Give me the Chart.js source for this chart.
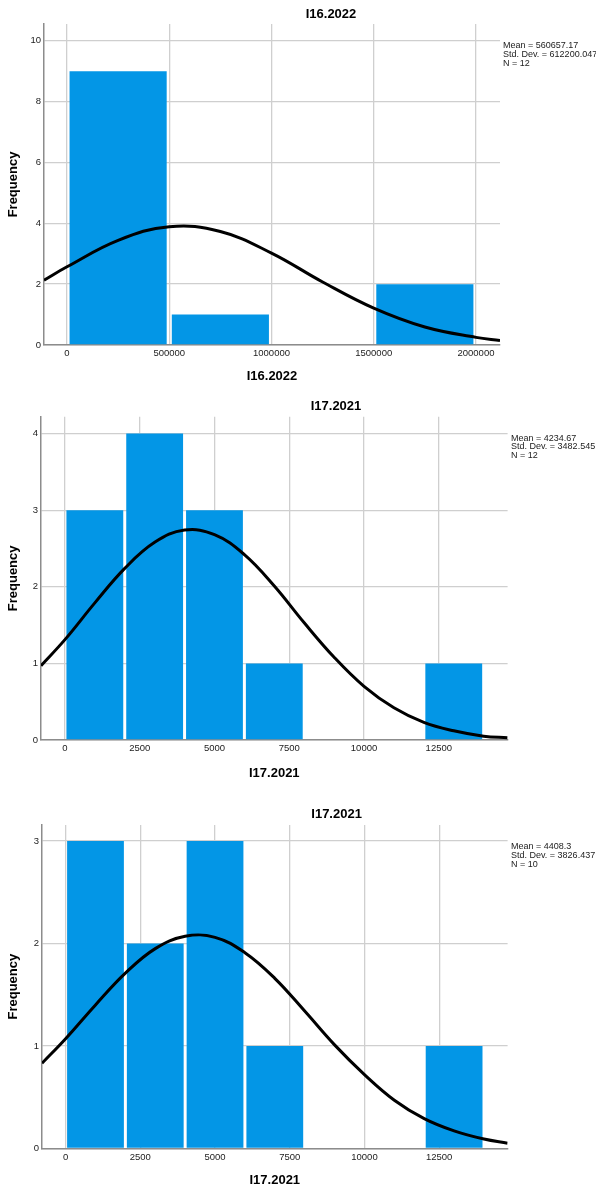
<!DOCTYPE html>
<html>
<head>
<meta charset="utf-8">
<script src="https://cdn.jsdelivr.net/npm/chart.js@4.4.1/dist/chart.umd.min.js"></script>
<style>
    body { margin: 0; background: #fff; }
    .pannello { position: absolute; left: 0; }
</style>
</head>
<body>
<div class="pannello" style="top:0px"><canvas id="c1" width="596" height="395"></canvas></div>
<div class="pannello" style="top:395px"><canvas id="c2" width="596" height="395"></canvas></div>
<div class="pannello" style="top:790px"><canvas id="c3" width="596" height="404"></canvas></div>
<script>

// I16.2022
const p1Mids = [250000, 750000, 1250000, 1750000];
const p1Counts = [9, 1, 0, 2];
const p1XTicks = [0, 500000, 1000000, 1500000, 2000000];
const p1YTicks = [0, 2, 4, 6, 8, 10];
const p1CurveX = [-112500, 0, 250000, 500000, 750000, 1000000, 1250000, 1500000, 1750000, 2000000, 2117500];
const p1CurveY = [2.13, 2.57, 3.44, 3.89, 3.73, 3.02, 2.07, 1.21, 0.59, 0.25, 0.15];
const p1Stats = ['Mean = 560657.17', 'Std. Dev. = 612200.047', 'N = 12'];

// I17.2021 (N = 12)
const p2Mids = [1000, 3000, 5000, 7000, 9000, 11000, 13000];
const p2Counts = [3, 4, 3, 1, 0, 0, 1];
const p2XTicks = [0, 2500, 5000, 7500, 10000, 12500];
const p2YTicks = [0, 1, 2, 3, 4];
const p2CurveX = [-800, 0, 1000, 2000, 3000, 4000, 5000, 6000, 7000, 8000, 9000, 10000, 11000, 12000, 13000, 14000, 14800];
const p2CurveY = [0.97, 1.31, 1.79, 2.24, 2.58, 2.74, 2.68, 2.42, 2.01, 1.53, 1.08, 0.70, 0.42, 0.23, 0.12, 0.05, 0.03];
const p2Stats = ['Mean = 4234.67', 'Std. Dev. = 3482.545', 'N = 12'];

// I17.2021 (N = 10)
const p3Mids = [1000, 3000, 5000, 7000, 9000, 11000, 13000];
const p3Counts = [3, 2, 3, 1, 0, 0, 1];
const p3XTicks = [0, 2500, 5000, 7500, 10000, 12500];
const p3YTicks = [0, 1, 2, 3];
const p3CurveX = [-790, 0, 1000, 2000, 3000, 4000, 5000, 6000, 7000, 8000, 9000, 10000, 11000, 12000, 13000, 14000, 14790];
const p3CurveY = [0.83, 1.07, 1.40, 1.71, 1.95, 2.07, 2.06, 1.91, 1.66, 1.34, 1.01, 0.72, 0.47, 0.29, 0.17, 0.09, 0.05];
const p3Stats = ['Mean = 4408.3', 'Std. Dev. = 3826.437', 'N = 10'];

const FONT = '"Liberation Sans", Arial, sans-serif';

// titolo del pannello e statistiche in alto a destra
const panelText = {
    id: 'panelText',
    afterDraw(chart, args, opts) {
        const ctx = chart.ctx;
        ctx.save();
        ctx.fillStyle = '#000';
        ctx.font = 'bold 13px ' + FONT;
        ctx.textAlign = 'center';
        ctx.textBaseline = 'middle';
        ctx.fillText(opts.title, opts.titleX, opts.titleY);
        ctx.font = '9px ' + FONT;
        ctx.fillStyle = '#222';
        ctx.textAlign = 'left';
        opts.stats.forEach(function (s, i) {
            ctx.fillText(s, opts.statsX, opts.statsY + i * 8.7);
        });
        ctx.restore();
    }
};

function creaIstogramma(canvas_id, p) {

    const ctx = document.getElementById(canvas_id);

    const tickFont = { size: 9.5, family: FONT };
    const titleFont = { size: 13, weight: 'bold', family: FONT };

    return new Chart(ctx, {
        type: 'bar',
        data: {
            datasets: [
                {
                    type: 'line',
                    data: p.curveX.map(function (x, i) { return { x: x, y: p.curveY[i] }; }),
                    borderColor: '#000',
                    borderWidth: 3,
                    pointRadius: 0,
                    fill: false,
                    tension: 0.4,
                    order: 0
                },
                {
                    type: 'bar',
                    data: p.mids.map(function (x, i) { return { x: x, y: p.counts[i] }; }),
                    backgroundColor: '#0396e6',
                    borderWidth: 0,
                    barPercentage: 0.95,
                    categoryPercentage: 1,
                    order: 1
                }
            ]
        },
        options: {
            responsive: false,
            animation: false,
            layout: {
                padding: { left: 0, top: p.padTop, right: p.padRight, bottom: 0 }
            },
            plugins: {
                legend: { display: false },
                tooltip: { enabled: false },
                panelText: {
                    title: p.title,
                    titleX: p.titleX,
                    titleY: p.titleY,
                    stats: p.stats,
                    statsX: p.statsX,
                    statsY: p.statsY
                }
            },
            scales: {
                x: {
                    type: 'linear',
                    min: p.xMin,
                    max: p.xMax,
                    offset: false,
                    afterFit: function (s) { s.height = p.xAxisH; },
                    afterBuildTicks: function (s) { s.ticks = p.xTicks.map(function (v) { return { value: v }; }); },
                    ticks: {
                        autoSkip: false,
                        maxRotation: 0,
                        padding: 3,
                        color: '#222',
                        font: tickFont,
                        callback: function (v) { return String(v); }
                    },
                    grid: { color: '#cfcfcf', lineWidth: 1.3, drawTicks: false, offset: false },
                    border: { color: '#8c8c8c', width: 1.5 },
                    title: {
                        display: true,
                        text: p.title,
                        color: '#000',
                        font: titleFont,
                        padding: { top: 0, bottom: p.xTitlePad }
                    }
                },
                y: {
                    min: 0,
                    max: p.yMax,
                    afterFit: function (s) { s.width = p.yAxisW; },
                    afterBuildTicks: function (s) { s.ticks = p.yTicks.map(function (v) { return { value: v }; }); },
                    ticks: {
                        padding: 3,
                        color: '#222',
                        font: tickFont,
                        callback: function (v) { return String(v); }
                    },
                    grid: { color: '#cfcfcf', lineWidth: 1.3, drawTicks: false },
                    border: { color: '#8c8c8c', width: 1.5 },
                    title: {
                        display: true,
                        text: 'Frequency',
                        color: '#000',
                        font: titleFont,
                        padding: { top: 6, bottom: 0 }
                    }
                }
            }
        },
        plugins: [panelText]
    });
}

creaIstogramma('c1', {
    mids: p1Mids, counts: p1Counts, xTicks: p1XTicks, yTicks: p1YTicks,
    curveX: p1CurveX, curveY: p1CurveY, stats: p1Stats, title: 'I16.2022',
    xMin: -112500, xMax: 2117500, yMax: 10.55,
    padTop: 24, padRight: 96, yAxisW: 44, xAxisH: 50, xTitlePad: 10.5,
    titleX: 331, titleY: 14, statsX: 503, statsY: 46
});

creaIstogramma('c2', {
    mids: p2Mids, counts: p2Counts, xTicks: p2XTicks, yTicks: p2YTicks,
    curveX: p2CurveX, curveY: p2CurveY, stats: p2Stats, title: 'I17.2021',
    xMin: -800, xMax: 14800, yMax: 4.22,
    padTop: 21.7, padRight: 88.4, yAxisW: 41, xAxisH: 50, xTitlePad: 9.2,
    titleX: 336, titleY: 11, statsX: 511, statsY: 43.3
});

creaIstogramma('c3', {
    mids: p3Mids, counts: p3Counts, xTicks: p3XTicks, yTicks: p3YTicks,
    curveX: p3CurveX, curveY: p3CurveY, stats: p3Stats, title: 'I17.2021',
    xMin: -790, xMax: 14790, yMax: 3.157,
    padTop: 35, padRight: 88.4, yAxisW: 42, xAxisH: 45.7, xTitlePad: 5.5,
    titleX: 336.6, titleY: 24.3, statsX: 511, statsY: 56.7
});

</script>
</body>
</html>
